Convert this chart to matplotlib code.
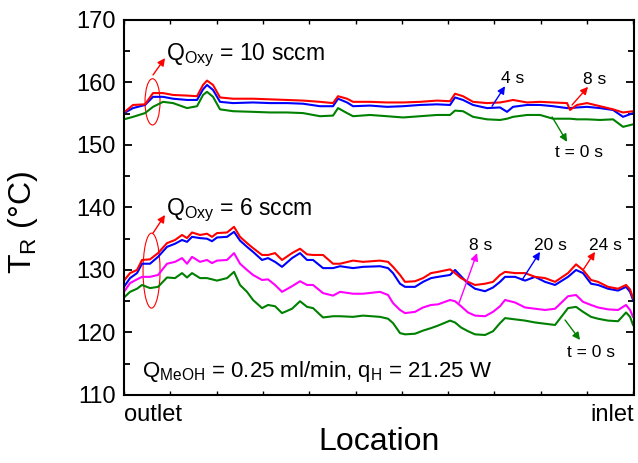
import numpy as np
import matplotlib
matplotlib.use("Agg")
import matplotlib.pyplot as plt
from matplotlib.patches import Ellipse
from matplotlib.ticker import MultipleLocator

plt.rcParams['font.family'] = 'Liberation Sans'
plt.rcParams['mathtext.fontset'] = 'custom'
plt.rcParams['mathtext.rm'] = 'Liberation Sans'
plt.rcParams['mathtext.it'] = 'Liberation Sans:italic'

# Q_Oxy = 6 sccm group (location along reactor, outlet -> inlet)
lower_loc = [0, 6, 13, 18, 26, 34, 43, 51, 58, 63,
             68, 76, 83, 88, 93, 103, 110, 116, 123, 129,
             138, 144, 151, 158, 168, 176, 183, 189, 199, 209,
             216, 229, 239, 256, 264, 269, 276, 281, 291, 299,
             307, 314, 326, 331, 337, 344, 351, 361, 369, 376,
             381, 391, 401, 411, 421, 431, 444, 452, 459, 467,
             474, 484, 494, 502, 506, 509]
t24_low = [128.3, 129.5, 130.0, 131.6, 131.7, 132.7, 134.3, 134.8, 135.6, 135.1,
           136.0, 135.6, 135.8, 135.3, 135.9, 136.0, 136.9, 135.3, 134.3, 133.5,
           132.4, 132.4, 132.7, 131.6, 132.7, 133.4, 132.5, 132.4, 132.4, 131.0,
           131.0, 131.5, 131.3, 131.5, 131.3, 130.5, 129.2, 128.1, 128.2, 128.7,
           129.5, 129.7, 130.1, 129.5, 128.7, 128.1, 127.6, 127.8, 128.1, 129.2,
           129.7, 129.5, 129.5, 128.9, 128.7, 128.1, 129.5, 130.9, 130.0, 128.4,
           128.1, 127.3, 127.0, 127.6, 126.9, 125.5]
t20_low = [127.3, 128.7, 129.5, 131.0, 131.0, 132.1, 133.7, 134.2, 134.8, 134.5,
           135.3, 135.1, 135.0, 134.6, 135.2, 135.3, 136.1, 134.7, 133.7, 132.9,
           131.6, 131.9, 131.3, 130.5, 131.9, 132.7, 131.6, 131.6, 130.3, 130.3,
           130.6, 130.3, 130.5, 130.6, 130.3, 129.5, 127.8, 127.3, 127.3, 128.1,
           128.7, 128.9, 129.2, 130.0, 129.0, 127.8, 127.0, 126.6, 127.2, 128.1,
           128.9, 128.9, 128.3, 128.9, 128.1, 127.6, 128.9, 130.0, 129.5, 127.8,
           127.6, 127.0, 126.7, 127.3, 126.5, 125.2]
t8_low = [126.5, 127.9, 128.5, 128.9, 128.9, 129.2, 131.0, 131.3, 131.9, 131.0,
          132.1, 131.3, 131.6, 131.1, 131.5, 131.6, 132.7, 131.0, 130.0, 129.2,
          128.4, 128.5, 127.6, 126.5, 127.4, 128.2, 127.6, 127.6, 126.3, 125.9,
          126.5, 126.2, 126.2, 126.5, 126.0, 124.7, 123.6, 123.1, 123.3, 124.0,
          124.4, 124.5, 125.2, 125.0, 124.2, 123.2, 122.7, 122.6, 123.3, 124.2,
          125.2, 124.8, 124.0, 123.8, 123.6, 123.8, 125.8, 126.0, 124.9, 124.4,
          124.0, 123.7, 123.6, 124.4, 123.6, 122.5]
t0_low = [125.6, 126.5, 127.0, 127.6, 127.1, 127.3, 128.8, 128.7, 129.5, 128.8,
          129.5, 128.7, 128.7, 128.5, 128.3, 128.7, 129.7, 127.6, 126.5, 125.2,
          123.9, 124.4, 124.2, 123.1, 123.8, 125.0, 124.1, 123.9, 122.4, 122.6,
          122.6, 122.5, 122.7, 122.5, 122.2, 121.5, 119.9, 119.7, 119.8, 120.3,
          120.7, 121.1, 121.9, 121.6, 120.8, 120.2, 119.7, 119.6, 120.2, 121.5,
          122.3, 122.1, 121.9, 121.6, 121.4, 121.2, 123.9, 124.1, 123.3, 122.5,
          122.2, 121.9, 121.8, 123.2, 122.5, 121.2]

# Q_Oxy = 10 sccm group
upper_loc = [0, 9, 21, 29, 39, 49, 63, 73, 79, 83,
             89, 96, 109, 129, 146, 163, 179, 196, 209, 214,
             223, 229, 246, 263, 279, 296, 313, 326, 331, 339,
             349, 363, 376, 383, 389, 403, 416, 429, 443, 446,
             453, 463, 476, 489, 499, 509]
t8_up = [155.2, 156.4, 156.5, 158.3, 158.3, 158.0, 157.9, 157.8, 159.6, 160.3,
         159.6, 157.6, 157.4, 157.4, 157.3, 157.2, 157.1, 156.9, 156.7, 157.8,
         157.4, 156.9, 156.9, 156.8, 156.8, 156.9, 157.1, 157.0, 158.2, 157.8,
         156.9, 156.7, 156.8, 157.0, 157.2, 156.8, 156.9, 156.8, 156.7, 155.6,
         156.4, 156.7, 156.2, 155.7, 155.2, 155.4]
t4_up = [155.1, 155.9, 156.4, 157.7, 157.7, 157.4, 157.2, 157.2, 158.9, 159.6,
         158.8, 156.9, 156.7, 156.8, 156.7, 156.7, 156.6, 156.2, 156.2, 157.4,
         156.8, 156.2, 156.3, 156.1, 156.2, 156.4, 156.5, 156.4, 157.6, 157.2,
         156.4, 155.9, 156.0, 155.3, 156.1, 156.4, 156.4, 156.2, 155.9, 155.9,
         156.0, 156.1, 155.9, 155.6, 154.5, 155.1]
t0_up = [154.1, 154.5, 155.1, 156.1, 156.9, 156.7, 155.9, 156.2, 158.0, 158.5,
         157.7, 155.7, 155.4, 155.3, 155.2, 155.2, 155.1, 154.6, 154.7, 155.9,
         155.1, 154.6, 154.8, 154.6, 154.4, 154.6, 154.8, 154.8, 155.5, 155.4,
         154.5, 154.1, 154.0, 154.2, 154.5, 154.8, 154.8, 154.2, 154.2, 154.2,
         154.1, 154.1, 154.0, 154.1, 152.9, 153.3]

RED = '#ff0000'
BLUE = '#0000ff'
MAG = '#ff00ff'
GREEN = '#008000'

fig = plt.figure(figsize=(6.38, 4.63), dpi=100)
ax = fig.add_axes([0.1944, 0.1469, 0.7994, 0.81])

lw = 1.5
ax.plot(lower_loc, t0_low, color=GREEN, lw=lw)
ax.plot(lower_loc, t8_low, color=MAG, lw=lw)
ax.plot(lower_loc, t20_low, color=BLUE, lw=lw)
ax.plot(lower_loc, t24_low, color=RED, lw=lw)
ax.plot(upper_loc, t0_up, color=GREEN, lw=lw)
ax.plot(upper_loc, t4_up, color=BLUE, lw=lw)
ax.plot(upper_loc, t8_up, color=RED, lw=lw)

ax.set_xlim(0, 510)
ax.set_ylim(110, 170)
ax.yaxis.set_major_locator(MultipleLocator(10))
ax.yaxis.set_minor_locator(MultipleLocator(5))
ax.set_xticks(np.arange(0, 511, 46.3))
ax.set_xticklabels([])
ax.tick_params(axis='y', which='both', direction='in', left=True, right=True,
               labelsize=17, pad=6, width=1.3)
ax.tick_params(axis='y', which='major', length=6)
ax.tick_params(axis='y', which='minor', length=4)
ax.tick_params(axis='x', which='major', direction='in', top=True, bottom=True,
               length=3, width=1.0)
for s in ax.spines.values():
    s.set_linewidth(1.5)

ax.set_xlabel('Location', fontsize=23)
ax.xaxis.set_label_coords(0.5, -0.085)
ax.set_ylabel('T$_{\\rm R}$ (°C)', fontsize=23)
ax.yaxis.set_label_coords(-0.165, 0.46)

ax.text(0.0, -0.025, 'outlet', transform=ax.transAxes, ha='left', va='top', fontsize=17)
ax.text(1.0, -0.025, 'inlet', transform=ax.transAxes, ha='right', va='top', fontsize=17)

# ellipses + group labels
ax.add_patch(Ellipse((28.5, 156.9), 15, 7.4, fill=False, ec=RED, lw=0.8))
ax.add_patch(Ellipse((27.5, 129.9), 17, 12, fill=False, ec=RED, lw=0.8))

arrow = dict(arrowstyle='-|>', lw=1.0, mutation_scale=11, shrinkA=0, shrinkB=0)

def arr(tail, head, color):
    ax.annotate('', xy=head, xytext=tail, arrowprops=dict(arrow, color=color))

arr((29, 161.2), (41, 163.9), RED)
ax.text(42, 163.6, 'Q$_{\\rm Oxy}$ = 10 sccm', fontsize=16.5, va='baseline')
arr((29, 135.9), (41, 138.8), RED)
ax.text(42, 138.8, 'Q$_{\\rm Oxy}$ = 6 sccm', fontsize=16.5, va='baseline')

# time labels, upper group
ax.text(388.5, 159.9, '4 s', fontsize=12.5, ha='center', va='baseline')
arr((368, 156.2), (381, 159.4), BLUE)
ax.text(471, 159.8, '8 s', fontsize=12.5, ha='center', va='baseline')
arr((448, 156.4), (464, 159.3), RED)
ax.text(455, 148.1, 't = 0 s', fontsize=12.5, ha='center', va='baseline')
arr((428, 154.5), (443, 150.5), GREEN)

# time labels, lower group
ax.text(357, 133.2, '8 s', fontsize=12.5, ha='center', va='baseline')
arr((335, 124.7), (353, 132.7), MAG)
ax.text(426, 133.2, '20 s', fontsize=12.5, ha='center', va='baseline')
arr((398, 128.4), (416, 132.9), BLUE)
ax.text(481.5, 133.2, '24 s', fontsize=12.5, ha='center', va='baseline')
arr((459, 130.0), (471, 132.9), RED)
ax.text(467, 116.1, 't = 0 s', fontsize=12.5, ha='center', va='baseline')
arr((441, 122.0), (456, 118.8), GREEN)

ax.text(18, 112.9, 'Q$_{\\rm MeOH}$ = 0.25 ml/min, q$_{\\rm H}$ = 21.25 W',
        fontsize=16, va='baseline')

fig.savefig('out.png', dpi=100)
